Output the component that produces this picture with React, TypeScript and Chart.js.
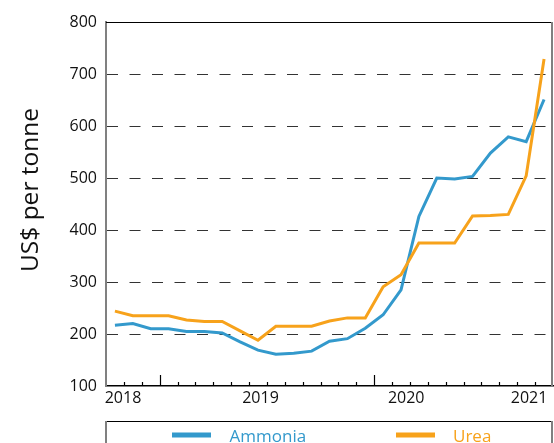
import React, { useEffect, useRef } from 'react';
import { Chart, registerables } from 'chart.js';

Chart.register(...registerables);

// Period index of each observation (one per data point)
const periods = [0, 1, 2, 3, 4, 5, 6, 7, 8, 9, 10, 11, 12, 13, 14, 15, 16, 17, 18, 19, 20, 21, 22, 23, 24];

const ammonia = [217, 220, 210, 210, 205, 205, 202, 185, 169, 161, 163, 167, 186, 191, 211, 237, 285, 426, 500, 498, 503, 548, 579, 570, 651];
const urea = [244, 235, 235, 235, 227, 224, 224, 206, 188, 215, 215, 215, 225, 231, 231, 291, 314, 375, 375, 375, 427, 428, 430, 504, 729];

const yearLabels = ['2018', '2019', '2020', '2021'];
const yearPositions = [0.45, 8.14, 16.29, 23.16];
const majorTickBoundaries = [3, 15];

const Y_MIN = 100;
const Y_MAX = 800;
const Y_STEP = 100;

const BLUE = '#3399CC';
const ORANGE = '#F7A21B';
const FONT = "'Open Sans', 'Noto Sans', sans-serif";

const decorPlugin = {
  id: 'decor',
  afterDraw(chart: any) {
    const { ctx, chartArea: a, scales } = chart;
    const x = scales.x;
    ctx.save();
    // top border (solid at 800)
    ctx.strokeStyle = '#000';
    ctx.lineWidth = 1;
    ctx.beginPath();
    ctx.moveTo(a.left, Math.round(a.top) + 0.5);
    ctx.lineTo(a.right, Math.round(a.top) + 0.5);
    ctx.stroke();
    // right border
    ctx.strokeStyle = '#808080';
    ctx.lineWidth = 2;
    ctx.beginPath();
    ctx.moveTo(Math.round(a.right) - 1, a.top);
    ctx.lineTo(Math.round(a.right) - 1, a.bottom);
    ctx.stroke();
    // x tick marks (inside plot, at period boundaries)
    ctx.strokeStyle = '#000';
    ctx.lineWidth = 1.2;
    for (let i = 1; i < periods.length; i++) {
      const px = Math.round(x.getPixelForValue(periods[i] - 0.5)) + 0.5;
      const len = majorTickBoundaries.includes(i) ? 11 : 4;
      ctx.beginPath();
      ctx.moveTo(px, a.bottom);
      ctx.lineTo(px, a.bottom - len);
      ctx.stroke();
    }
    // y axis title
    ctx.save();
    ctx.translate(37.5, 190);
    ctx.rotate(-Math.PI / 2);
    ctx.font = `24.5px ${FONT}`;
    ctx.fillStyle = '#111';
    ctx.textAlign = 'center';
    ctx.textBaseline = 'alphabetic';
    ctx.fillText('US$ per tonne', 0, 0);
    ctx.restore();
    // legend box
    ctx.strokeStyle = '#000';
    ctx.lineWidth = 1;
    ctx.beginPath();
    ctx.moveTo(105, 421.5);
    ctx.lineTo(552, 421.5);
    ctx.stroke();
    ctx.strokeStyle = '#808080';
    ctx.lineWidth = 2;
    ctx.beginPath();
    ctx.moveTo(106, 421);
    ctx.lineTo(106, 460);
    ctx.moveTo(552, 421);
    ctx.lineTo(552, 460);
    ctx.stroke();
    const items = [
      { sx: 172, tx: 229.5 },
      { sx: 396, tx: 453 },
    ];
    ctx.font = `17px ${FONT}`;
    ctx.textBaseline = 'alphabetic';
    ctx.textAlign = 'left';
    chart.data.datasets.forEach((ds: any, i: number) => {
      const it = items[i];
      ctx.fillStyle = ds.borderColor;
      ctx.fillRect(it.sx, 432.5, 39, 5);
      ctx.fillText(ds.label, it.tx, 441.5);
    });
    ctx.restore();
  },
};

export default function App() {
  const ref = useRef<HTMLCanvasElement | null>(null);

  useEffect(() => {
    document.body.style.margin = '0';
    const canvas = ref.current;
    if (!canvas) return;
    const chart = new Chart(canvas, {
      type: 'line',
      data: {
        datasets: [
          {
            label: 'Ammonia',
            data: periods.map((p, i) => ({ x: p, y: ammonia[i] })),
            borderColor: BLUE,
            backgroundColor: BLUE,
            borderWidth: 3,
            pointRadius: 0,
            tension: 0,
            order: 1,
          },
          {
            label: 'Urea',
            data: periods.map((p, i) => ({ x: p, y: urea[i] })),
            borderColor: ORANGE,
            backgroundColor: ORANGE,
            borderWidth: 3,
            pointRadius: 0,
            tension: 0,
            order: 0,
          },
        ],
      },
      plugins: [decorPlugin],
      options: {
        responsive: false,
        animation: false,
        devicePixelRatio: 1,
        layout: { padding: { top: 22, right: 1, left: 0, bottom: 0 } },
        plugins: {
          legend: { display: false },
          tooltip: { enabled: false },
          title: { display: false },
        },
        scales: {
          x: {
            type: 'linear',
            min: periods[0] - 0.5,
            max: periods[periods.length - 1] + 0.5,
            afterFit: (s: any) => {
              s.height = 57;
            },
            afterBuildTicks: (s: any) => {
              s.ticks = yearPositions.map((v) => ({ value: v }));
            },
            grid: { display: false, drawTicks: false },
            border: { display: true, color: '#000', width: 1.5 },
            ticks: {
              autoSkip: false,
              maxRotation: 0,
              padding: 3,
              color: '#111',
              font: { family: FONT, size: 16 },
              callback: (_v: any, i: number) => yearLabels[i],
            },
          },
          y: {
            min: Y_MIN,
            max: Y_MAX,
            afterFit: (s: any) => {
              s.width = 106;
            },
            ticks: {
              stepSize: Y_STEP,
              padding: 9,
              color: '#111',
              font: { family: FONT, size: 16 },
            },
            grid: {
              drawTicks: false,
              color: (c: any) => (c.tick && (c.tick.value === Y_MIN || c.tick.value === Y_MAX) ? 'rgba(0,0,0,0)' : '#333'),
              lineWidth: 1,
            },
            border: { display: true, color: '#808080', width: 2, dash: [11, 11.5] },
          },
        },
      },
    });
    return () => chart.destroy();
  }, []);

  return (
    <div style={{ width: 554, height: 443, overflow: 'hidden' }}>
      <canvas ref={ref} width={554} height={443} style={{ display: 'block', width: 554, height: 443 }} />
    </div>
  );
}
